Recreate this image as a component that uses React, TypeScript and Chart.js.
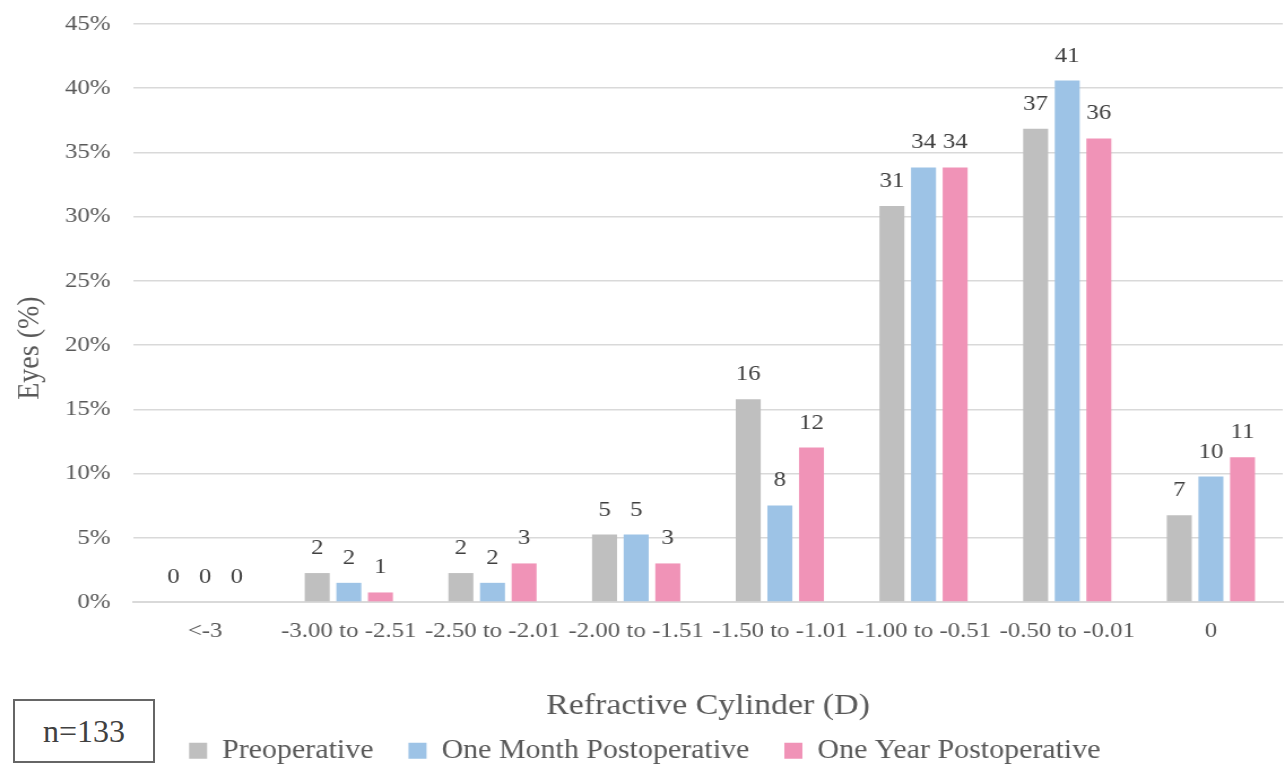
import React, { useEffect, useRef } from "react";
import { Chart, registerables } from "chart.js";

Chart.register(...registerables);

const categories = ["<-3", "-3.00 to -2.51", "-2.50 to -2.01", "-2.00 to -1.51", "-1.50 to -1.01", "-1.00 to -0.51", "-0.50 to -0.01", "0"];
const preoperative = [0, 2.26, 2.26, 5.26, 15.79, 30.83, 36.84, 6.77];
const oneMonth = [0, 1.5, 1.5, 5.26, 7.52, 33.83, 40.6, 9.77];
const oneYear = [0, 0.75, 3.01, 3.01, 12.03, 33.83, 36.09, 11.28];
const preLabels = ["0", "2", "2", "5", "16", "31", "37", "7"];
const monthLabels = ["0", "2", "2", "5", "8", "34", "41", "10"];
const yearLabels = ["0", "1", "3", "3", "12", "34", "36", "11"];
const seriesNames = ["Preoperative", "One Month Postoperative", "One Year Postoperative"];
const yTicks = [0, 5, 10, 15, 20, 25, 30, 35, 40, 45];

const FONT = "'Liberation Serif', 'Times New Roman', serif";
const TEXT = "#595959";
const W = 1137;
const H = 768;
const SX = 1285 / W;
const NB = "\u00A0";

const barLabelPlugin = {
  id: "barLabels",
  afterDatasetsDraw(chart: any) {
    const ctx = chart.ctx;
    const labelSets = [preLabels, monthLabels, yearLabels];
    ctx.save();
    ctx.font = `22px ${FONT}`;
    ctx.fillStyle = "#404040";
    ctx.textAlign = "center";
    ctx.textBaseline = "alphabetic";
    chart.data.datasets.forEach((ds: any, i: number) => {
      const meta = chart.getDatasetMeta(i);
      meta.data.forEach((el: any, j: number) => {
        ctx.fillText(labelSets[i][j], el.x, el.y - 19);
      });
    });
    ctx.restore();
  },
};

export default function App() {
  const ref = useRef<HTMLCanvasElement | null>(null);
  useEffect(() => {
    document.body.style.margin = "0";
    const chart = new Chart(ref.current!, {
      type: "bar",
      data: {
        labels: categories,
        datasets: [
          { label: seriesNames[0], data: preoperative, backgroundColor: "#bfbfbf" },
          { label: seriesNames[1], data: oneMonth, backgroundColor: "#9dc3e6" },
          { label: seriesNames[2], data: oneYear, backgroundColor: "#f093b7" },
        ],
      },
      options: {
        animation: false,
        responsive: false,
        maintainAspectRatio: false,
        layout: { padding: { left: 6, right: 2, top: 0, bottom: -6 } },
        datasets: { bar: { categoryPercentage: 0.66, barPercentage: 0.79 } },
        scales: {
          x: {
            grid: { display: false, drawTicks: false },
            border: { display: true, color: "#d9d9d9", width: 2 },
            ticks: {
              autoSkip: false,
              maxRotation: 0,
              minRotation: 0,
              padding: 16,
              color: TEXT,
              font: { family: FONT, size: 22 },
            },
            title: {
              display: true,
              text: "Refractive Cylinder (D)",
              color: TEXT,
              font: { family: FONT, size: 30 },
              padding: { top: 28, bottom: -18 },
            },
          },
          y: {
            min: 0,
            max: 45,
            afterBuildTicks(axis: any) {
              axis.ticks = yTicks.map((v) => ({ value: v }));
            },
            afterFit(axis: any) {
              axis.paddingTop = 24;
            },
            grid: { color: "#d9d9d9", lineWidth: 1.5, drawTicks: false },
            border: { display: false },
            ticks: {
              padding: 20,
              color: TEXT,
              font: { family: FONT, size: 22 },
              callback: (v: any) => `${v}%`,
            },
            title: {
              display: true,
              text: "Eyes (%)" + NB.repeat(10),
              color: TEXT,
              font: { family: FONT, size: 28 },
              padding: { top: 4, bottom: -6 },
            },
          },
        },
        plugins: {
          legend: {
            position: "bottom",
            labels: {
              boxWidth: 16,
              boxHeight: 16,
              padding: 31,
              color: TEXT,
              font: { family: FONT, size: 26.5 },
            },
          },
          tooltip: { enabled: false },
        },
      },
      plugins: [barLabelPlugin],
    });
    return () => chart.destroy();
  }, []);

  return (
    <div style={{ position: "absolute", left: 0, top: 0, width: 1285, height: 768, background: "#fff", overflow: "hidden" }}>
      <div style={{ position: "absolute", left: 0, top: 0, width: W, height: H, transform: `scaleX(${SX})`, transformOrigin: "0 0" }}>
        <canvas ref={ref} width={W} height={H} style={{ width: W, height: H, display: "block" }} />
      </div>
      <div
        style={{
          position: "absolute",
          left: 13,
          top: 699,
          width: 138,
          height: 60,
          border: "2px solid #666",
          display: "flex",
          alignItems: "center",
          justifyContent: "center",
          fontFamily: FONT,
          fontSize: 32,
          color: "#404040",
          background: "#fff",
        }}
      >
        n=133
      </div>
    </div>
  );
}
